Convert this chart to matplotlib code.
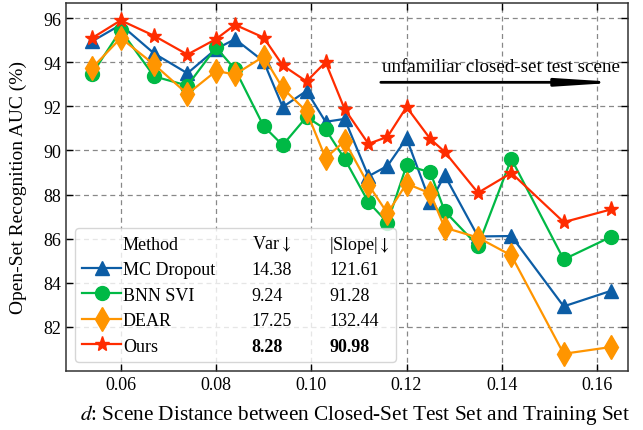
import matplotlib
matplotlib.use("Agg")
from matplotlib import pyplot as plt
from matplotlib.lines import Line2D

# scene distance d
dist = [0.054, 0.060, 0.067, 0.074, 0.080, 0.084, 0.090, 0.094, 0.099, 0.103,
        0.107, 0.112, 0.116, 0.120, 0.125, 0.128, 0.135, 0.142, 0.153, 0.163]

mc_dropout = [94.95, 95.7, 94.4, 93.5, 94.6, 95.05, 94.04, 91.97, 92.7, 91.3,
              91.43, 88.83, 89.3, 90.55, 87.65, 88.88, 86.1, 86.12, 82.93, 83.64]
bnn_svi = [93.48, 95.45, 93.36, 92.94, 94.67, 93.68, 91.1, 90.24, 91.52, 90.96,
           89.62, 87.66, 86.73, 89.32, 89.01, 87.25, 85.67, 89.62, 85.06, 86.09]
dear = [93.74, 95.1, 93.9, 92.56, 93.6, 93.45, 94.26, 92.83, 91.77, 89.66,
        90.42, 88.45, 87.15, 88.5, 88.05, 86.5, 86.05, 85.24, 80.78, 81.09]
ours = [95.1, 95.9, 95.2, 94.35, 95.05, 95.7, 95.12, 93.86, 93.13, 94.0,
        91.88, 90.3, 90.62, 91.97, 90.52, 89.94, 88.08, 88.98, 86.75, 87.33]

methods = ["MC Dropout", "BNN SVI", "DEAR", "Ours"]
var_vals = ["14.38", "9.24", "17.25", "8.28"]
slope_vals = ["121.61", "91.28", "132.44", "90.98"]

colors = ["#0C5DA5", "#00B945", "#FF9500", "#FF2C00"]
markers = ["^", "o", "d", "*"]
msizes = [10, 10, 12, 11]

plt.rcParams["font.family"] = ["Liberation Serif", "DejaVu Serif"]
plt.rcParams["mathtext.fontset"] = "stix"
plt.rcParams["xtick.direction"] = "in"
plt.rcParams["ytick.direction"] = "in"
plt.rcParams["xtick.top"] = True
plt.rcParams["ytick.right"] = True

fig, ax = plt.subplots(figsize=(6.43, 4.31), dpi=100)
fig.subplots_adjust(left=0.1026, right=0.9767, top=0.9914, bottom=0.1369)

series = [mc_dropout, bnn_svi, dear, ours]
lines = []
for vals, c, m, ms, name in zip(series, colors, markers, msizes, methods):
    ln, = ax.plot(dist, vals, color=c, marker=m, markersize=ms, linewidth=1.6,
                  label=name)
    lines.append(ln)

ax.set_xlim(0.0485, 0.1665)
ax.set_ylim(80, 96.7)
ax.set_xticks([0.06, 0.08, 0.10, 0.12, 0.14, 0.16])
ax.set_xticklabels(["0.06", "0.08", "0.10", "0.12", "0.14", "0.16"])
ax.set_yticks([82, 84, 86, 88, 90, 92, 94, 96])
ax.tick_params(labelsize=13, length=5, width=1)
ax.grid(True, linestyle=(0, (4, 3)), color="#888888", linewidth=0.9)
for s in ax.spines.values():
    s.set_linewidth(1.1)
    s.set_color("#333333")

ax.set_ylabel("Open-Set Recognition AUC (%)", fontsize=14)
ax.yaxis.set_label_coords(-0.07, 0.5)
ax.set_xlabel("$d$: Scene Distance between Closed-Set Test Set and Training Set",
              fontsize=15.3)
ax.xaxis.set_label_coords(0.514, -0.085)

ax.annotate("", xy=(0.1649, 93.09), xytext=(0.1146, 93.09),
            arrowprops=dict(arrowstyle="-|>,head_length=3.4,head_width=0.22",
                            color="black", linewidth=2, shrinkA=0, shrinkB=0))
ax.text(0.1399, 93.81, "unfamiliar closed-set test scene", fontsize=13.7,
        ha="center", va="center")

header = Line2D([], [], linestyle="none")
leg = ax.legend([header] + lines, ["Method"] + methods, loc="lower left",
                bbox_to_anchor=(0.016, 0.025, 0.571, 0.365), mode="expand",
                borderaxespad=0, fontsize=13, handlelength=2.15,
                handletextpad=0.1, labelspacing=0.47, borderpad=0.4)

fig.canvas.draw()
inv = ax.transAxes.inverted()
col_text = [["Var$\\downarrow$"] + var_vals,
            ["|Slope|$\\downarrow$"] + slope_vals]
col_x = [0.3304, 0.4685]
for i, txt in enumerate(leg.get_texts()):
    bx, by = txt.get_transform().transform(txt.get_position())
    y = inv.transform((bx, by))[1]
    bold = "bold" if i == len(methods) else "normal"
    for cx, col in zip(col_x, col_text):
        ax.text(cx, y, col[i], transform=ax.transAxes, fontsize=13,
                va="baseline", ha="left", fontweight=bold, zorder=6)

fig.savefig("out.png", dpi=100)
